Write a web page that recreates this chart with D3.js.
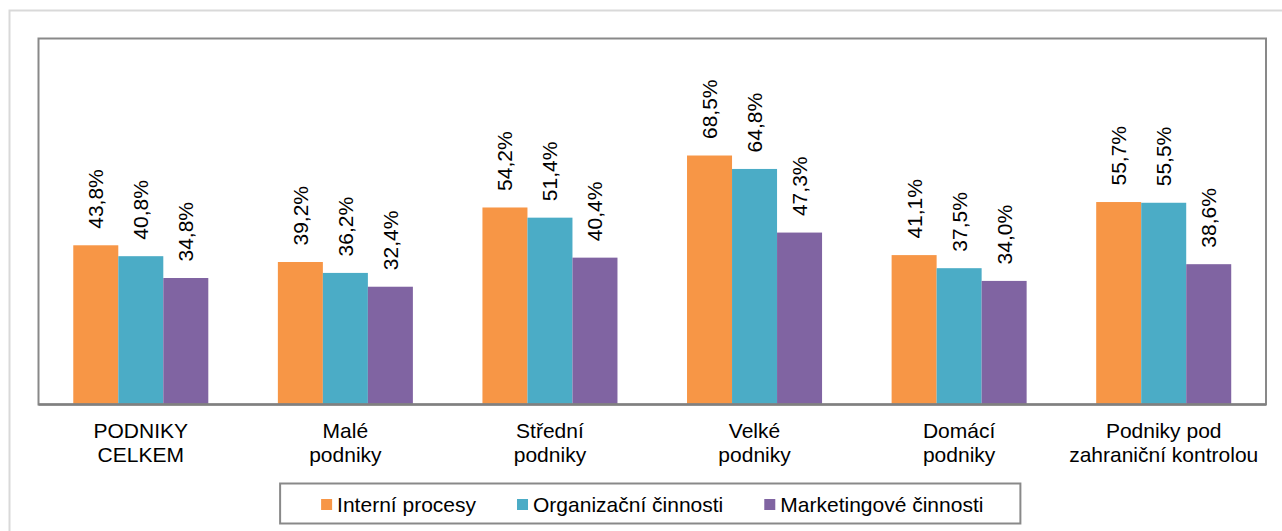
<!DOCTYPE html>
<html lang="cs">
<head>
<meta charset="utf-8">
<script src="https://cdn.jsdelivr.net/npm/d3@7"></script>
<style>
    body { margin: 0; background: #fff; }
    svg text { font-family: "Liberation Sans", Arial, sans-serif; fill: #000; }
</style>
</head>
<body>
<div id="my_dataviz"></div>
<script>

    // categories (each label is split into lines)
    const categories = ["PODNIKY CELKEM", "Malé podniky", "Střední podniky", "Velké podniky", "Domácí podniky", "Podniky pod zahraniční kontrolou"];
    const categoryLines = [["PODNIKY", "CELKEM"], ["Malé", "podniky"], ["Střední", "podniky"], ["Velké", "podniky"], ["Domácí", "podniky"], ["Podniky pod", "zahraniční kontrolou"]];

    const seriesNames = ["Interní procesy", "Organizační činnosti", "Marketingové činnosti"];
    const seriesColors = ["#F79646", "#4BACC6", "#8064A2"];

    const interniProcesy = [43.8, 39.2, 54.2, 68.5, 41.1, 55.7];
    const organizacniCinnosti = [40.8, 36.2, 51.4, 64.8, 37.5, 55.5];
    const marketingoveCinnosti = [34.8, 32.4, 40.4, 47.3, 34.0, 38.6];

    const seriesValues = [interniProcesy, organizacniCinnosti, marketingoveCinnosti];

    const svgWidth = 1282;
    const svgHeight = 531;
    const plot = { left: 38.5, top: 38.5, right: 1266, bottom: 404.5 };

    const svg = d3.select("#my_dataviz")
        .append("svg")
        .attr("width", svgWidth)
        .attr("height", svgHeight);

    // outer light frame
    svg.append("rect")
        .attr("x", 9.5).attr("y", 10.5)
        .attr("width", svgWidth).attr("height", svgHeight)
        .attr("fill", "none")
        .attr("stroke", "#d9d9d9")
        .attr("stroke-width", 2);

    // scales
    const x0 = d3.scaleBand()
        .domain(categories)
        .range([plot.left, plot.right])
        .paddingInner(0.34)
        .paddingOuter(0.17);

    const x1 = d3.scaleBand()
        .domain(seriesNames)
        .range([0, x0.bandwidth()]);

    const y = d3.scaleLinear()
        .domain([0, 100])
        .range([plot.bottom, plot.bottom - 363.5]);

    const rows = categories.map((c, i) => ({
        cat: c,
        values: seriesNames.map((s, j) => ({ series: s, color: seriesColors[j], value: seriesValues[j][i] }))
    }));

    const groups = svg.append("g")
        .selectAll("g")
        .data(rows)
        .enter()
        .append("g")
        .attr("transform", d => `translate(${x0(d.cat)},0)`);

    groups.selectAll("rect")
        .data(d => d.values)
        .enter()
        .append("rect")
        .attr("x", d => x1(d.series))
        .attr("y", d => y(d.value))
        .attr("width", x1.bandwidth())
        .attr("height", d => y(0) - y(d.value))
        .attr("fill", d => d.color);

    // value labels, rotated
    groups.selectAll("text")
        .data(d => d.values)
        .enter()
        .append("text")
        .attr("transform", d => `translate(${x1(d.series) + x1.bandwidth() / 2 + 7.5},${y(d.value) - 16.5}) rotate(-90)`)
        .attr("text-anchor", "start")
        .style("font-size", "21px")
        .text(d => d.value.toFixed(1).replace(".", ",") + "%");

    // plot frame
    svg.append("rect")
        .attr("x", plot.left).attr("y", plot.top)
        .attr("width", plot.right - plot.left)
        .attr("height", plot.bottom - plot.top)
        .attr("fill", "none")
        .attr("stroke", "#898989")
        .attr("stroke-width", 2);

    // x axis line
    svg.append("line")
        .attr("x1", plot.left).attr("x2", plot.right)
        .attr("y1", y(0)).attr("y2", y(0))
        .attr("stroke", "#808080")
        .attr("stroke-width", 2.5);

    // category labels
    categories.forEach((c, i) => {
        const t = svg.append("text")
            .attr("x", x0(c) + x0.bandwidth() / 2)
            .attr("y", 438)
            .attr("text-anchor", "middle")
            .style("font-size", "21px");
        categoryLines[i].forEach((line, k) => {
            t.append("tspan")
                .attr("x", x0(c) + x0.bandwidth() / 2)
                .attr("dy", k === 0 ? 0 : 23.5)
                .text(line);
        });
    });

    // legend
    const legend = svg.append("g");
    const legendBox = legend.append("rect")
        .attr("fill", "#fff")
        .attr("stroke", "#898989")
        .attr("stroke-width", 2);

    const itemGap = 41;
    const boxPad = 41;
    let lx = 0;
    const items = [];
    seriesNames.forEach((s, j) => {
        const g = legend.append("g");
        g.append("rect")
            .attr("x", lx).attr("y", 499)
            .attr("width", 11).attr("height", 11)
            .attr("fill", seriesColors[j]);
        const t = g.append("text")
            .attr("x", lx + 16)
            .attr("y", 512)
            .style("font-size", "21px")
            .text(s);
        const w = t.node().getComputedTextLength();
        lx += 16 + w + itemGap;
        items.push(g);
    });
    const contentWidth = lx - itemGap;
    const legendCenter = (plot.left + plot.right) / 2;
    const startX = legendCenter - contentWidth / 2;
    items.forEach(g => g.attr("transform", `translate(${startX},0)`));
    legendBox
        .attr("x", startX - boxPad)
        .attr("y", 483.5)
        .attr("width", contentWidth + boxPad * 2 - 4)
        .attr("height", 40);

</script>
</body>
</html>
